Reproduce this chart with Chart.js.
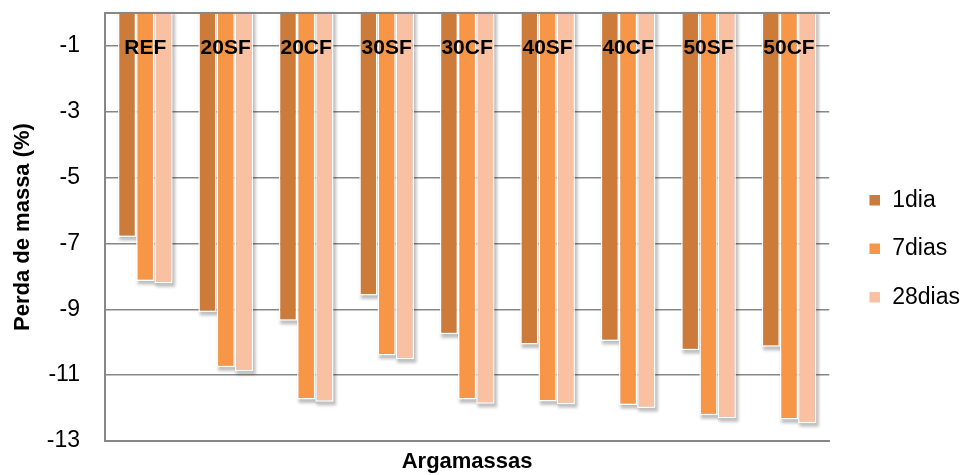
<!DOCTYPE html>
<html>
<head>
<meta charset="utf-8">
<script src="https://cdn.jsdelivr.net/npm/chart.js@4.4.0/dist/chart.umd.min.js"></script>
<style>
  html, body { margin: 0; padding: 0; background: #fff; }
  #wrap { width: 970px; height: 475px; position: relative; }
</style>
</head>
<body>
<div id="wrap"><canvas id="massChart"></canvas></div>
<script>
// mass loss per mortar, at 1, 7 and 28 days
const categories = ["REF", "20SF", "20CF", "30SF", "30CF", "40SF", "40CF", "50SF", "50CF"];
const seriesNames = ["1dia", "7dias", "28dias"];
const day1 = [-6.80, -9.08, -9.35, -8.58, -9.76, -10.07, -9.96, -10.24, -10.14];
const day7 = [-8.14, -10.76, -11.74, -10.40, -11.74, -11.80, -11.91, -12.22, -12.35];
const day28 = [-8.21, -10.88, -11.81, -10.52, -11.87, -11.88, -12.00, -12.31, -12.46];
const yTicks = [-1, -3, -5, -7, -9, -11, -13];

const colors = ["#CD7B3A", "#F79646", "#FAC0A2"];
const axisGray = "#878787";
const fontFamily = "'Liberation Sans', Arial, sans-serif";

// soft drop shadow under each bar, drawn from the bar elements
const barShadow = {
    id: "barShadow",
    beforeDatasetsDraw(chart) {
        const ctx = chart.ctx;
        ctx.save();
        ctx.fillStyle = "rgba(0,0,0,0.25)";
        ctx.filter = "blur(1.5px)";
        chart.data.datasets.forEach((ds, i) => {
            chart.getDatasetMeta(i).data.forEach((bar) => {
                const p = bar.getProps(["x", "y", "base", "width"], true);
                ctx.fillRect(p.x - p.width / 2 + 1.5, p.base, p.width + 1, p.y - p.base + 3.5);
            });
        });
        ctx.restore();
    }
};

const seriesData = [day1, day7, day28];

new Chart(document.getElementById("massChart"), {
    type: "bar",
    data: {
        labels: categories,
        datasets: seriesNames.map((name, i) => ({
            label: name,
            data: seriesData[i],
            backgroundColor: colors[i],
            borderColor: "#ffffff",
            borderWidth: 1.5,
            borderSkipped: "start",
            barPercentage: 1,
            categoryPercentage: 0.68,
            xAxisID: "x"
        }))
    },
    options: {
        responsive: true,
        maintainAspectRatio: false,
        animation: false,
        layout: { padding: { top: 13, right: 0, left: 0, bottom: 0 } },
        plugins: {
            tooltip: { enabled: false },
            legend: {
                position: "right",
                align: "center",
                // empty title only nudges the items down a little
                title: { display: true, text: "", padding: 0, font: { size: 8 } },
                labels: {
                    boxWidth: 12,
                    boxHeight: 12,
                    padding: 25.5,
                    color: "#000",
                    font: { family: fontFamily, size: 23 }
                }
            }
        },
        scales: {
            x: {
                type: "category",
                position: "top",
                grid: { display: false, drawTicks: false },
                border: { display: true, color: axisGray, width: 2, z: 1 },
                ticks: {
                    mirror: true,
                    padding: 23,
                    z: 1,
                    color: "#000",
                    font: { family: fontFamily, size: 21, weight: "bold" }
                },
                afterFit(scale) { scale.height = 0; }
            },
            xb: {
                type: "category",
                position: "bottom",
                grid: { display: false, drawTicks: false },
                border: { display: true, color: axisGray, width: 2 },
                ticks: { display: false },
                title: {
                    display: true,
                    text: "Argamassas",
                    color: "#000",
                    padding: { top: 12, bottom: 0 },
                    font: { family: fontFamily, size: 22, weight: "bold" }
                },
                afterFit(scale) { scale.height = 34; }
            },
            y: {
                min: -13,
                max: 0,
                grid: { color: axisGray, lineWidth: 1.5, drawTicks: false },
                border: { display: true, color: axisGray, width: 2 },
                afterBuildTicks(scale) {
                    scale.ticks = yTicks.map((v) => ({ value: v }));
                },
                ticks: {
                    padding: 25,
                    color: "#000",
                    font: { family: fontFamily, size: 23 }
                },
                title: {
                    display: true,
                    text: "Perda de massa (%)",
                    color: "#000",
                    padding: { top: 10, bottom: 0 },
                    font: { family: fontFamily, size: 22, weight: "bold" }
                },
                afterFit(scale) {
                    scale.width = 105;
                    scale.paddingTop = 0;
                    scale.paddingBottom = 0;
                }
            },
            // empty spacer between the plot and the legend
            gap: {
                type: "linear",
                position: "right",
                min: 0,
                max: 1,
                grid: { display: false, drawTicks: false },
                border: { display: false },
                ticks: { display: false },
                afterFit(scale) { scale.width = 14; }
            }
        }
    },
    plugins: [barShadow]
});
</script>
</body>
</html>
